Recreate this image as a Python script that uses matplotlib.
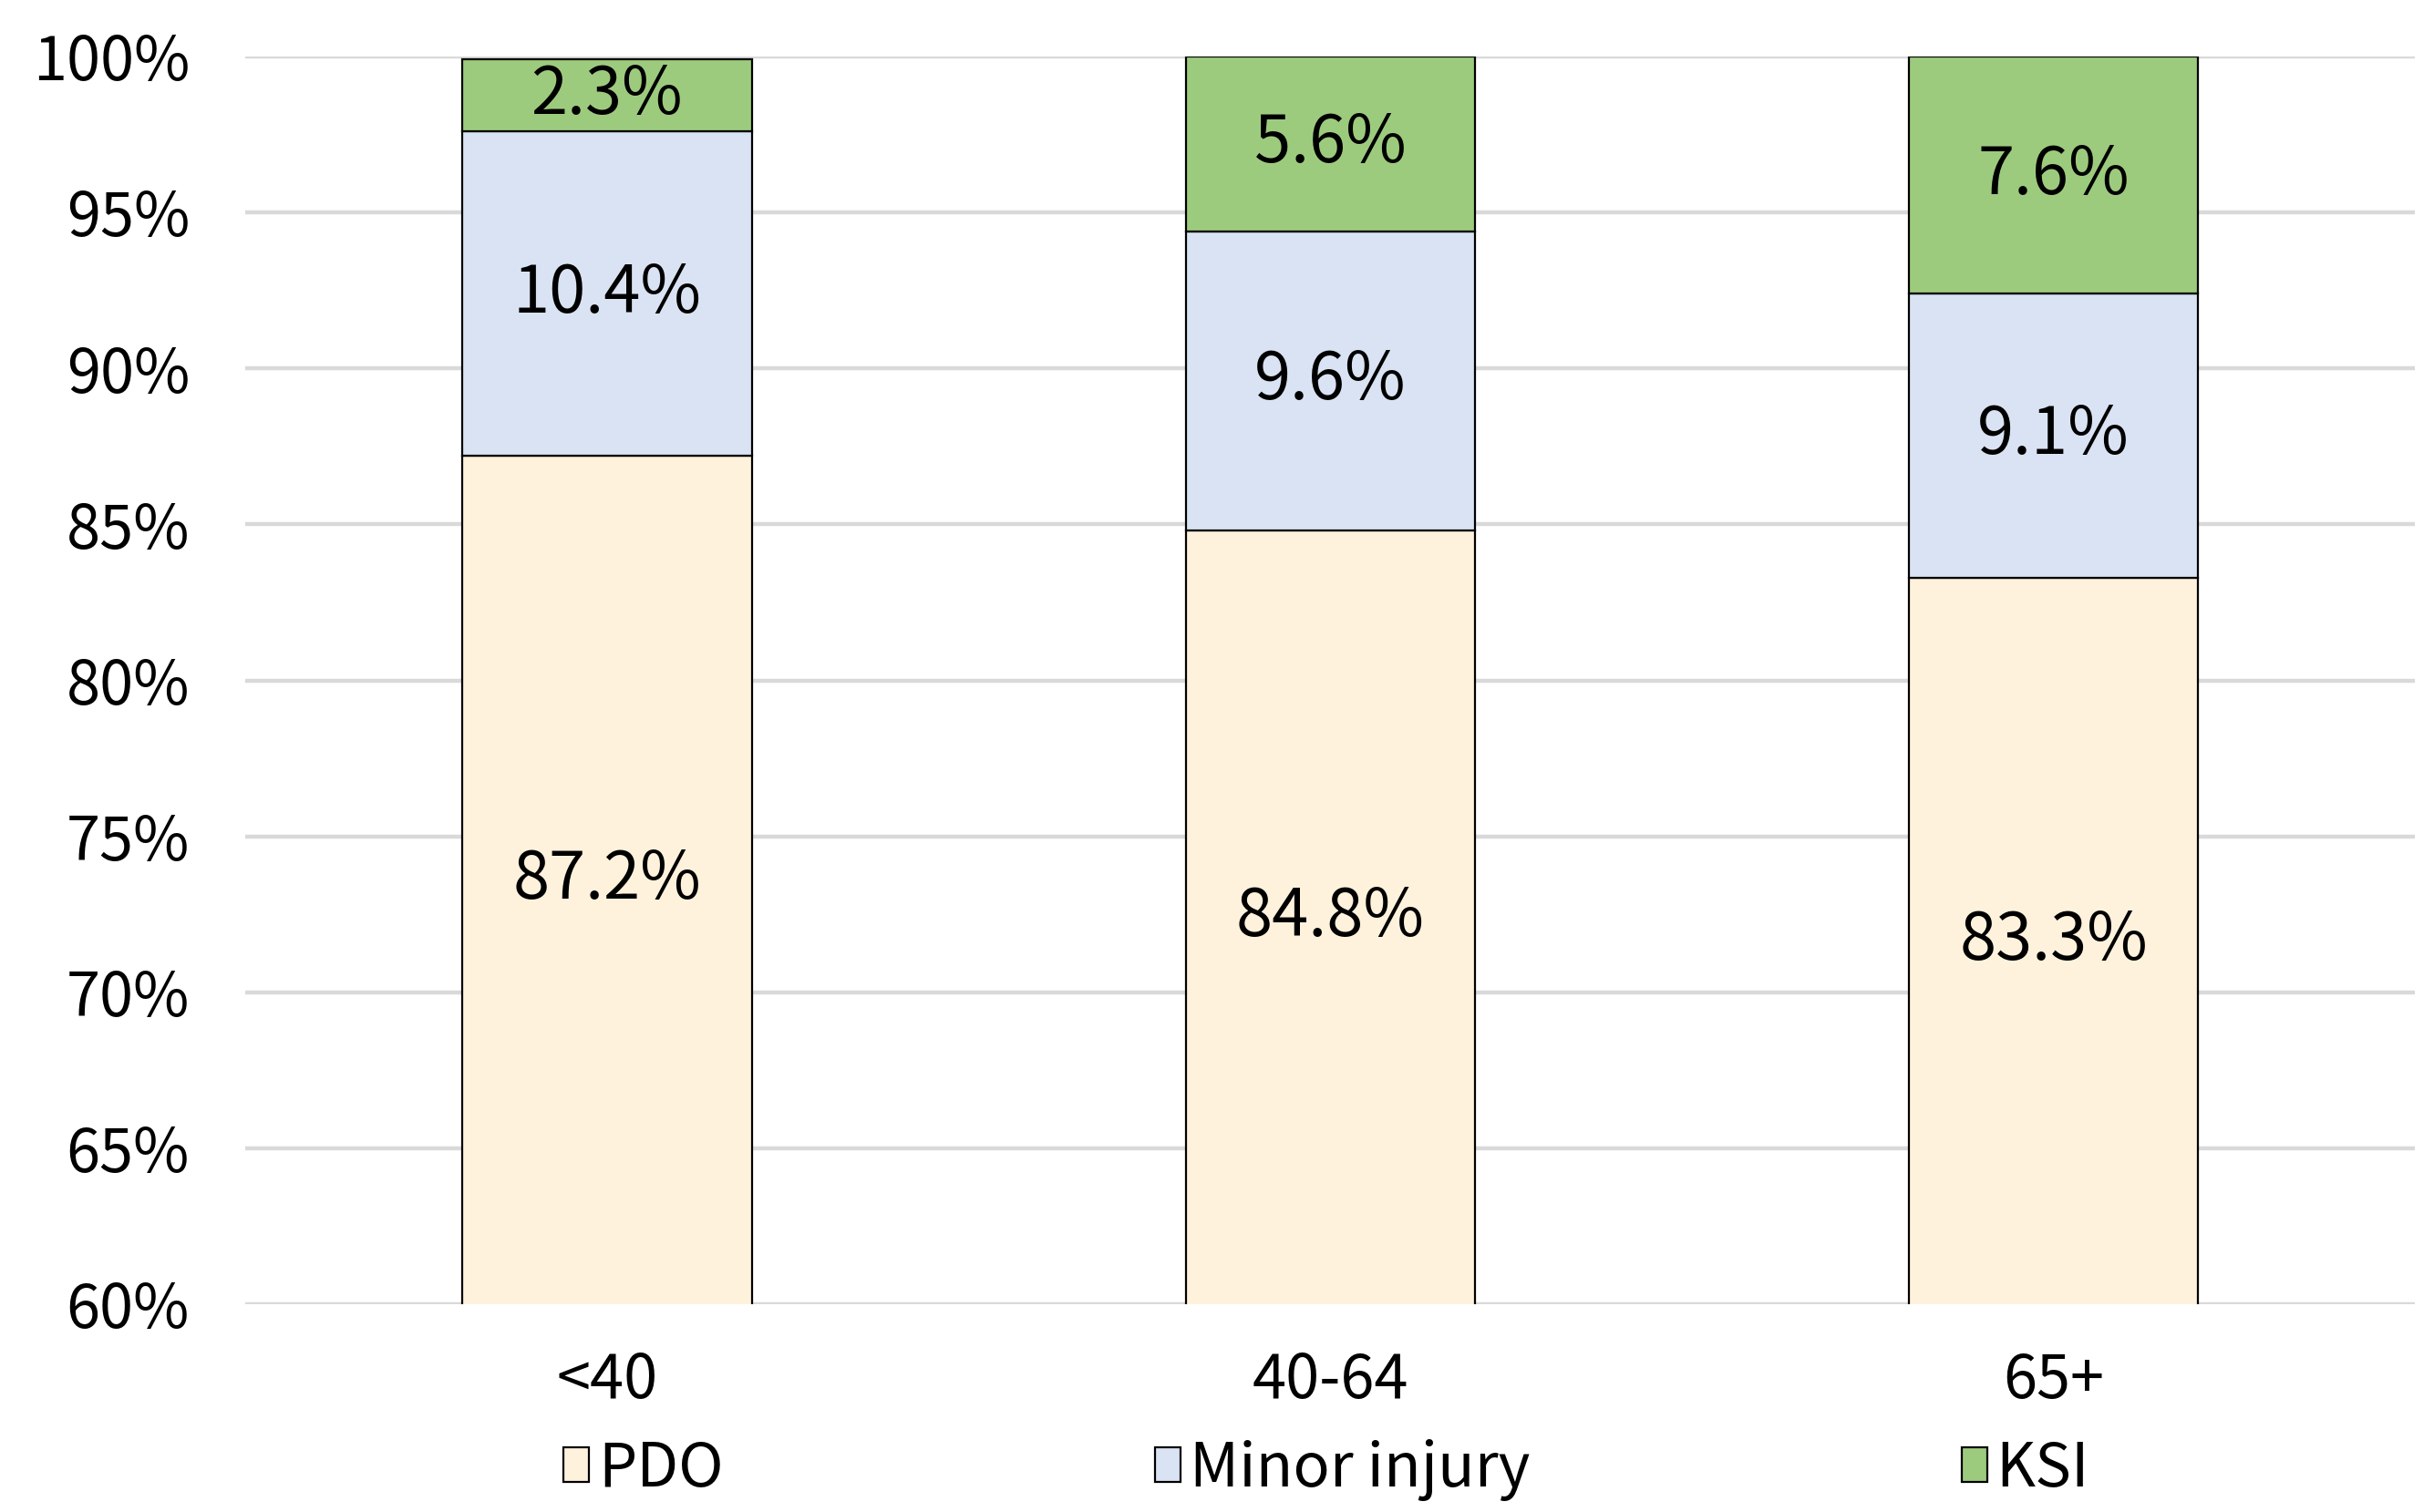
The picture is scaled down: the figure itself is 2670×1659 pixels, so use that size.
#!/usr/bin/env python3
import matplotlib

matplotlib.use("Agg")
import matplotlib.pyplot as plt  # type: ignore
from matplotlib.ticker import FuncFormatter  # type: ignore

plt.rcParams["font.family"] = ["Noto Sans CJK KR", "DejaVu Sans"]

age_groups = ["<40", "40-64", "65+"]
pdo = [87.2, 84.8, 83.3]
minor_injury = [10.4, 9.6, 9.1]
ksi = [2.3, 5.6, 7.6]

series_names = ["PDO", "Minor injury", "KSI"]
colors = ["#FFF2DC", "#DAE3F3", "#9DCB7E"]


def main() -> None:
    fig = plt.figure(figsize=(13.35, 8.295), dpi=200)
    ax = fig.add_axes([0.1008, 0.1374, 0.8915, 0.8252])

    x = list(range(len(age_groups)))
    bottoms = [0.0] * len(age_groups)
    for name, values, color in zip(series_names, [pdo, minor_injury, ksi], colors):
        bars = ax.bar(x, values, width=0.4, bottom=bottoms, color=color,
                      edgecolor="black", linewidth=0.8, label=name, zorder=3)
        for rect, val, b in zip(bars, values, bottoms):
            mid = max(b, 60) + (b + val - max(b, 60)) / 2
            ax.text(rect.get_x() + rect.get_width() / 2, mid, f"{val:.1f}%",
                    ha="center", va="center", fontsize=26, zorder=4)
        bottoms = [b + v for b, v in zip(bottoms, values)]

    ax.set_ylim(60, 100)
    ax.set_xlim(-0.5, 2.5)
    ax.set_yticks(range(60, 101, 5))
    ax.yaxis.set_major_formatter(FuncFormatter(lambda v, _: f"{v:.0f}%"))
    ax.set_xticks(x)
    ax.set_xticklabels(age_groups)
    ax.tick_params(axis="both", length=0, labelsize=24)
    ax.tick_params(axis="y", pad=22)
    ax.tick_params(axis="x", pad=18)
    ax.grid(axis="y", color="#D9D9D9", linewidth=1.6, zorder=0)
    ax.set_axisbelow(True)
    for spine in ax.spines.values():
        spine.set_visible(False)

    fig.legend(loc="center", bbox_to_anchor=(0.545, 0.028), ncol=3,
               frameon=False, fontsize=24, handlelength=0.42,
               handleheight=0.5, handletextpad=0.15, columnspacing=7.1)

    fig.savefig("out.png", dpi=200)


if __name__ == "__main__":
    main()
